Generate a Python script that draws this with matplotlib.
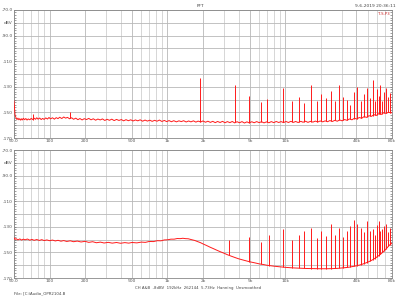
import numpy as np
import matplotlib.pyplot as plt
from matplotlib.ticker import FixedLocator, NullFormatter, MultipleLocator

# noise floor, upper channel (Hz, dBV)
top_f = [50, 50.5, 51, 52, 53, 54, 55, 56, 57, 58, 59, 60, 61.5, 63, 64.5, 66, 68, 70,
         72, 74, 76, 78, 80, 82.5, 85, 87.5, 90, 93, 96, 99, 102, 106, 110, 114, 118,
         122, 127, 132, 137, 142, 148, 154, 160, 167, 174, 181, 189, 197, 206, 215,
         225, 235, 246, 257, 269, 281, 294, 308, 322, 337, 353, 370, 388, 406, 425,
         445, 466, 488, 511, 535, 560, 587, 615, 645, 676, 708, 742, 778, 815, 855,
         896, 940, 985, 1030, 1080, 1130, 1190, 1250, 1310, 1370, 1440, 1510, 1580,
         1660, 1740, 1820, 1910, 2000, 2100, 2200, 2310, 2420, 2540, 2660, 2790,
         2930, 3070, 3220, 3380, 3540, 3710, 3890, 4080, 4280, 4490, 4710, 4940,
         5180, 5430, 5700, 5980, 6270, 6580, 6900, 7240, 7590, 7960, 8350, 8760,
         9190, 9640, 10100, 10600, 11100, 11700, 12200, 12800, 13500, 14100, 14800,
         15500, 16300, 17100, 17900, 18800, 19700, 20700, 21700, 22700, 23800,
         25000, 26200, 27500, 28800, 30200, 31700, 33300, 34900, 36600, 38400,
         40300, 42200, 44300, 46400, 48700, 51100, 53600, 56200, 58900, 61800,
         64800, 68000, 71300, 74800, 78400, 80000]
top_db = [-141, -146, -152, -154.2, -155.6, -154.5, -155.8, -154.9, -156.1, -155.0,
          -155.9, -154.6, -155.7, -154.8, -156.0, -155.1, -155.8, -154.7, -155.6,
          -154.5, -155.4, -154.2, -155.3, -154.4, -155.6, -154.7, -155.5, -154.3,
          -155.2, -154.0, -155.1, -154.2, -155.3, -154.1, -154.9, -153.8, -154.8,
          -153.6, -154.5, -153.9, -155.0, -154.2, -155.4, -154.5, -155.7, -154.8,
          -155.9, -154.9, -155.6, -154.7, -155.8, -155.0, -156.1, -155.2, -155.9,
          -155.1, -156.3, -155.4, -156.2, -155.3, -156.4, -155.5, -156.3, -155.6,
          -156.6, -155.7, -156.5, -155.8, -156.7, -155.9, -156.6, -155.8, -156.9,
          -156.0, -156.8, -156.1, -157.0, -156.2, -156.9, -156.0, -157.1, -156.3,
          -157.2, -156.4, -157.3, -156.5, -157.4, -156.6, -157.2, -156.5, -157.5,
          -156.7, -157.4, -156.6, -157.6, -156.8, -157.5, -156.7, -157.7, -156.9,
          -157.8, -157.0, -158.0, -157.1, -157.9, -157.0, -158.1, -157.2, -158.0,
          -157.1, -158.2, -157.3, -158.1, -157.2, -158.3, -157.4, -158.2, -157.3,
          -158.1, -157.2, -158.0, -157.3, -158.2, -157.4, -158.1, -157.2, -158.0,
          -157.1, -157.9, -157.2, -158.0, -157.1, -157.9, -157.0, -157.8, -157.1,
          -157.9, -157.0, -157.7, -156.9, -157.8, -157.0, -157.6, -156.8, -157.5,
          -156.7, -157.4, -156.6, -157.3, -156.4, -157.1, -156.2, -156.9, -155.9,
          -156.6, -155.6, -156.2, -155.1, -155.8, -154.6, -155.2, -154.0, -154.6,
          -153.3, -153.9, -152.6, -153.1, -151.8, -152.4, -151.0, -151.6, -150.3,
          -150.8, -149.9, -150.4, -150.1]

# discrete spurs, upper channel
top_spur_f = [72, 150, 1870, 3770, 4940, 6230, 7000, 9450, 11450, 13100, 14400,
              16500, 18550, 20050, 22100, 24300, 26300, 28400, 30650, 33100, 35100,
              37900, 40200, 43400, 46000, 48750, 51650, 54750, 56900, 59150, 61500,
              63900, 66400, 69050, 71750, 74600, 77000]
top_spur_db = [-151, -150, -123, -128.6, -137, -142, -139.5, -131, -141, -138,
               -143, -128.6, -141, -136, -139, -133, -141, -128.6, -138, -140,
               -144, -134, -130, -141, -136, -131, -139, -124.7, -141, -132,
               -137, -128.6, -141, -134, -131, -138, -135]

# noise floor, lower channel
bot_f = [50, 51, 52, 54, 56, 58, 60, 62, 65, 68, 71, 74, 78, 82, 86, 90, 95, 100,
         106, 112, 118, 125, 132, 140, 150, 160, 172, 185, 200, 215, 232, 250, 270,
         290, 315, 340, 370, 400, 435, 470, 500, 550, 600, 650, 700, 760, 820, 880,
         940, 1000, 1070, 1140, 1210, 1280, 1350, 1420, 1500, 1600, 1700, 1800,
         1900, 2000, 2150, 2300, 2450, 2600, 2800, 3000, 3250, 3500, 3750, 4000,
         4500, 5000, 5500, 6000, 6500, 7000, 8000, 9000, 10000, 11000, 12000,
         13500, 15000, 17500, 20000, 22500, 25000, 27500, 30000, 32500, 35000,
         37500, 40000, 42500, 45000, 47500, 50000, 52500, 55000, 57500, 60000,
         62500, 65000, 67500, 70000, 72500, 75000, 77500, 80000]
bot_db = [-138.6, -139.8, -139.2, -140.2, -139.4, -140.3, -139.6, -140.1, -139.5,
          -140.4, -139.8, -140.5, -139.9, -140.6, -140.0, -140.7, -140.2, -140.8,
          -140.3, -141.0, -140.5, -141.2, -140.7, -141.4, -140.9, -141.6, -141.1,
          -141.8, -141.3, -142.1, -141.6, -142.4, -141.9, -142.6, -142.1, -142.7,
          -142.2, -142.8, -142.3, -142.7, -142.2, -142.5, -141.9, -142.1, -141.4,
          -141.5, -140.8, -140.9, -140.2, -140.1, -139.6, -139.6, -139.1, -139.2,
          -138.9, -139.2, -139.3, -140.0, -140.6, -141.5, -142.3, -143.3, -144.6,
          -145.9, -147.0, -148.1, -149.4, -150.5, -151.9, -153.0, -154.0, -154.9,
          -156.2, -157.3, -158.1, -158.9, -159.4, -160.0, -160.7, -161.2, -161.6,
          -161.9, -162.1, -162.3, -162.5, -162.6, -162.7, -162.7, -162.6, -162.4,
          -162.1, -161.8, -161.4, -160.9, -160.4, -159.8, -159.1, -158.3, -157.5,
          -156.6, -155.6, -154.5, -153.3, -152.1, -150.8, -149.4, -148.0, -146.5,
          -144.9, -143.6, -142.8]

# discrete spurs, lower channel
bot_spur_f = [3300, 4940, 6230, 7300, 9450, 11450, 13100, 14400, 16500, 18550,
              20050, 22100, 24300, 26300, 28400, 30650, 33100, 35100, 37900, 40200,
              43400, 46000, 48750, 51650, 54750, 56900, 59150, 61500, 63900, 66400,
              69050, 71750, 74600, 77000]
bot_spur_db = [-140, -137.7, -142, -136, -132, -140, -136, -133.6, -130.5, -139,
               -133.6, -137, -128, -136, -130.5, -138, -133.6, -129, -124.4, -128,
               -130.5, -134, -125.6, -133, -131.9, -136, -128.7, -125.6, -133,
               -131.9, -129, -128, -134, -131]

xticks = [50, 100, 200, 500, 1000, 2000, 5000, 10000, 40000, 80000]
xlabels = ["50.0", "100", "200", "500", "1k", "2k", "5k", "10k", "40k", "80k"]
yticks = [-70, -80, -90, -100, -110, -120, -130, -140, -150, -160, -170]
ylabels = ["-70.0", "dBV", "-90.0", "", "-110", "", "-130", "", "-150", "", "-170"]

red = "#ff1a1a"
fig = plt.figure(figsize=(4, 3), dpi=100)
ax1 = fig.add_axes([0.035, 0.54, 0.945, 0.427])
ax2 = fig.add_axes([0.035, 0.073, 0.945, 0.427])

panels = [(ax1, top_f, top_db, top_spur_f, top_spur_db),
          (ax2, bot_f, bot_db, bot_spur_f, bot_spur_db)]
for ax, f, db, sf, sdb in panels:
    ax.set_xscale("log")
    ax.set_xlim(50, 80000)
    ax.set_ylim(-170, -70)
    ax.plot(f, db, color=red, lw=0.7, zorder=3)
    base = np.interp(np.log10(sf), np.log10(f), db)
    ax.vlines(sf, base, sdb, colors=red, lw=0.7, zorder=3)

    ax.xaxis.set_major_locator(FixedLocator(xticks))
    ax.set_xticklabels(xlabels)
    ax.xaxis.set_minor_locator(FixedLocator(
        [60, 70, 80, 90, 300, 400, 600, 700, 800, 900, 3000, 4000, 6000, 7000,
         8000, 9000, 20000, 30000, 50000, 60000, 70000]))
    ax.xaxis.set_minor_formatter(NullFormatter())
    ax.set_yticks(yticks)
    ax.set_yticklabels(ylabels)
    ax.yaxis.set_minor_locator(MultipleLocator(2))
    ax.get_yticklabels()[1].set_color("#c03030")

    ax.grid(True, which="major", color="#b8b8b8", lw=0.6)
    ax.grid(True, which="minor", axis="x", color="#d0d0d0", lw=0.6)
    ax.tick_params(which="both", labelsize=3.2, length=1.5, width=0.4, pad=1,
                   colors="#555555", right=True, direction="in")
    ax.tick_params(axis="x", which="both", length=0)
    for s in ax.spines.values():
        s.set_color("#888888")
        s.set_linewidth(0.6)
    ax.set_axisbelow(True)

ax1.text(0.995, 0.985, "T.S.P3", transform=ax1.transAxes, ha="right", va="top",
         fontsize=2.8, color="#cc2222")
fig.text(0.5, 0.988, "FFT", ha="center", va="top", fontsize=3.2, color="#444444")
fig.text(0.99, 0.988, "9-6-2019 20:36:11", ha="right", va="top", fontsize=3.2,
         color="#444444")
fig.text(0.495, 0.047, "CH A&B  -8dBV  192kHz  262144  5.73Hz  Hanning  Unsmoothed",
         ha="center", va="top", fontsize=2.8, color="#444444")
fig.text(0.035, 0.022, "File: [C:\\Audio_OPR2104.B", ha="left", va="center",
         fontsize=2.8, color="#444444")

fig.savefig("out.png", dpi=100)
